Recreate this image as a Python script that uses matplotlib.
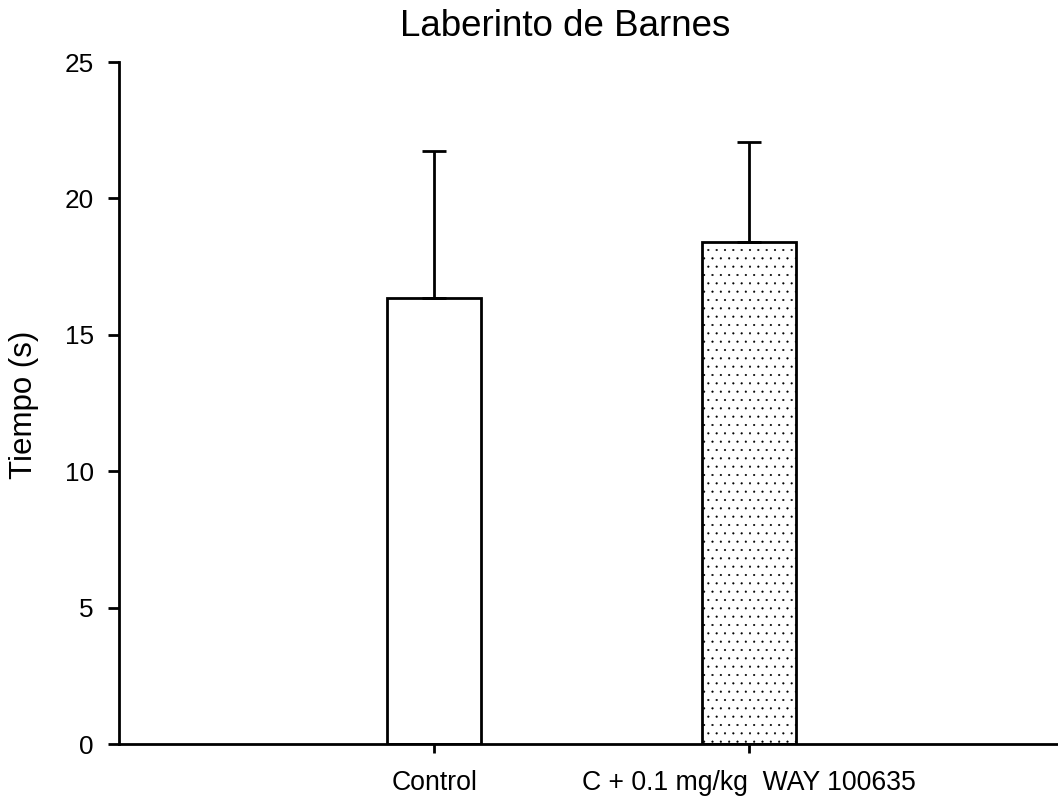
import matplotlib
matplotlib.use("Agg")
import matplotlib.pyplot as plt

plt.rcParams['font.family'] = ['Liberation Sans', 'DejaVu Sans']
plt.rcParams['hatch.linewidth'] = 0.3
plt.rcParams['hatch.color'] = '#444444'

# Data
groups = ["Control", "C + 0.1 mg/kg  WAY 100635"]
means = [16.35, 18.40]
sem = [5.40, 3.67]
hatches = [None, '..']
y_ticks = [0, 5, 10, 15, 20, 25]

fig = plt.figure(figsize=(10.58, 7.97), dpi=100)
ax = fig.add_axes([119 / 1058, 53 / 797, 939 / 1058, 682 / 797])

x = list(range(len(groups)))
for xi, m, e, h in zip(x, means, sem, hatches):
    ax.bar(xi, m, width=0.30, color='white', edgecolor='black',
           linewidth=2.0, hatch=h, zorder=2)
    ax.errorbar(xi, m, yerr=[[0], [e]], fmt='none', ecolor='black',
                elinewidth=2.0, capsize=8.3, capthick=2.0, zorder=3)

ax.set_xlim(-1.0, 1.98)
ax.set_ylim(0, 25)
ax.set_yticks(y_ticks)
ax.set_xticks(x)
ax.set_xticklabels(groups, fontsize=19.2)
ax.tick_params(axis='y', labelsize=18.8, length=8, width=2.0, direction='out', pad=10)
ax.tick_params(axis='x', length=6.5, width=2.0, direction='out', pad=12)

for side in ['top', 'right']:
    ax.spines[side].set_visible(False)
for side in ['left', 'bottom']:
    ax.spines[side].set_linewidth(2.0)

fig.text(24 / 1058, 1 - 404.5 / 797, "Tiempo (s)", fontsize=22.5,
         rotation=90, ha='center', va='center')

fig.text(565 / 1058, 1 - 36 / 797, "Laberinto de Barnes", fontsize=26.5,
         ha='center', va='baseline')

fig.savefig("out.png", dpi=100)
